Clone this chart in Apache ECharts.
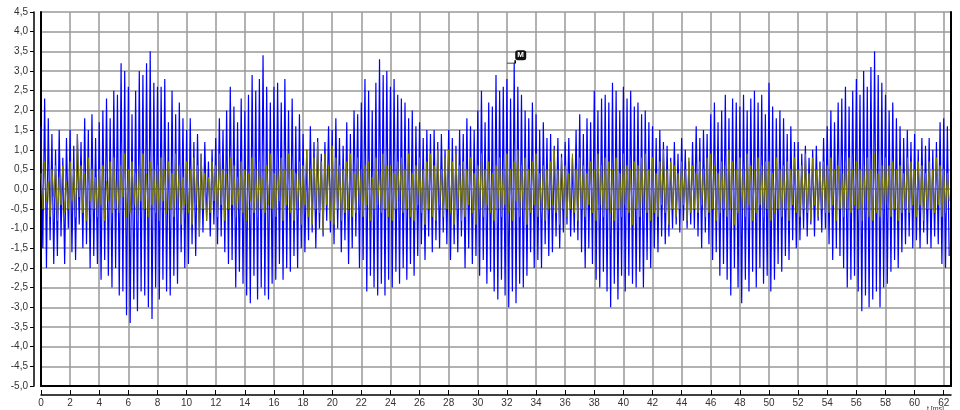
<!DOCTYPE html>
<html><head><meta charset="utf-8">
<script src="https://cdn.jsdelivr.net/npm/echarts@6/dist/echarts.min.js"></script>
<style>html,body{margin:0;padding:0;background:#fff}#c{width:960px;height:410px}</style>
</head><body><div id="c"></div>
<script>
// sampling step of both signals, in ms
const sampleStep = 0.125;

// blue signal, one row per millisecond (8 samples each)
const blueRows = [
[1.6,-1.5,2.3,-2.0,1.8,-1.3,1.4,-1.9],
[1.0,-1.7,1.5,-1.2,0.8,-1.9,1.3,-1.0],
[1.5,-1.6,1.1,-1.8,1.4,-0.9,1.2,-1.5],
[1.8,-1.4,1.5,-2.0,1.9,-1.7,1.3,-1.9],
[1.7,-2.3,2.0,-1.8,2.3,-2.2,1.8,-2.5],
[2.5,-2.0,2.4,-2.7,3.2,-2.6,3.0,-3.2],
[2.6,-3.4,1.9,-2.8,2.5,-3.1,3.0,-2.6],
[2.9,-2.7,3.2,-3.0,3.5,-3.3,2.7,-2.5],
[2.6,-2.8,2.6,-2.3,2.8,-2.6,1.7,-2.7],
[2.5,-2.2,1.9,-2.4,2.2,-1.6,1.8,-2.0],
[1.5,-1.9,1.8,-1.4,1.2,-1.7,1.4,-1.2],
[0.9,-1.1,1.2,-0.8,0.7,-1.2,1.0,-0.9],
[1.3,-1.4,1.8,-1.2,1.5,-1.6,2.0,-1.9],
[2.6,-1.8,2.1,-2.5,1.7,-2.1,2.3,-2.4],
[2.0,-2.7,2.4,-2.9,2.9,-2.2,2.5,-2.8],
[2.8,-2.5,3.4,-2.7,2.6,-2.8,2.2,-2.4],
[2.6,-2.3,2.7,-1.9,2.2,-2.3,2.8,-2.0],
[2.0,-2.1,2.3,-1.7,1.6,-2.0,1.9,-1.5],
[1.4,-1.6,1.0,-1.3,1.6,-1.1,1.2,-1.5],
[1.3,-1.0,0.9,-1.2,1.2,-0.8,1.6,-1.1],
[1.5,-1.4,1.8,-1.0,1.3,-1.6,1.1,-1.3],
[1.7,-1.9,1.4,-1.5,2.0,-1.2,1.9,-2.0],
[2.2,-1.8,2.8,-2.6,2.5,-2.2,2.0,-2.5],
[2.7,-2.7,3.3,-2.4,2.9,-2.7,3.0,-2.3],
[2.6,-2.5,2.8,-2.1,2.4,-2.4,2.3,-2.0],
[2.2,-2.3,1.8,-1.9,2.0,-2.2,1.6,-1.7],
[1.7,-1.4,1.3,-1.8,1.5,-1.2,1.4,-1.6],
[1.5,-1.3,1.2,-1.5,1.4,-1.1,1.0,-1.4],
[1.5,-1.8,1.3,-1.4,1.1,-1.6,1.5,-1.2],
[1.4,-2.0,1.8,-1.5,1.6,-1.9,1.5,-1.7],
[2.0,-2.2,2.5,-1.8,1.7,-2.4,2.2,-2.1],
[2.1,-2.6,2.9,-2.8,2.5,-2.3,2.6,-2.7],
[2.8,-3.0,2.3,-2.6,3.2,-2.9,2.6,-2.4],
[2.4,-2.5,2.0,-2.2,1.8,-1.6,2.2,-2.0],
[1.9,-1.8,1.5,-2.0,1.7,-1.4,1.3,-1.7],
[1.4,-1.6,1.1,-1.2,1.3,-1.5,0.9,-1.1],
[1.2,-0.9,1.3,-1.2,0.8,-1.1,1.5,-1.3],
[1.9,-1.6,1.4,-2.0,1.8,-1.5,1.7,-1.9],
[2.5,-2.3,2.0,-2.5,2.3,-2.1,2.4,-2.6],
[2.2,-3.0,2.7,-2.4,2.5,-2.8,2.0,-2.2],
[2.6,-2.6,2.3,-2.2,2.5,-2.4,2.1,-2.5],
[2.2,-2.1,1.9,-2.5,2.0,-1.8,1.7,-2.0],
[1.6,-1.5,1.3,-1.6,1.5,-1.2,1.2,-1.4],
[1.1,-1.2,0.8,-1.0,1.2,-0.9,0.9,-1.1],
[1.3,-0.8,1.0,-1.0,0.7,-0.9,1.2,-1.0],
[1.6,-1.2,1.3,-1.5,1.5,-1.1,1.4,-1.4],
[1.9,-1.8,2.2,-1.6,1.7,-2.2,2.0,-1.9],
[2.4,-2.3,1.8,-2.7,2.3,-2.0,2.2,-2.5],
[2.1,-2.9,2.4,-2.3,2.0,-2.6,2.3,-2.1],
[2.5,-2.5,2.2,-2.0,2.4,-2.4,1.9,-2.2],
[2.7,-2.6,2.1,-2.3,1.8,-1.9,2.0,-2.1],
[1.8,-1.7,1.4,-1.8,1.6,-1.3,1.2,-1.5],
[1.2,-1.3,0.9,-1.0,1.1,-1.2,0.8,-0.9],
[1.0,-1.2,1.1,-0.8,0.7,-1.1,1.3,-1.0],
[1.6,-1.4,2.0,-1.8,1.7,-1.5,2.2,-1.7],
[2.3,-2.0,2.6,-2.5,2.1,-2.3,2.5,-2.2],
[2.8,-2.6,2.4,-3.1,3.0,-2.7,2.6,-3.0],
[3.1,-2.8,3.5,-2.6,2.9,-3.0,2.7,-2.5],
[2.4,-2.4,2.0,-2.1,2.2,-1.8,1.8,-2.0],
[1.6,-1.6,1.3,-1.4,1.5,-1.2,1.2,-1.5],
[1.4,-1.3,1.0,-1.5,1.3,-1.1,1.1,-1.4],
[1.3,-1.5,1.0,-1.2,1.2,-1.4,1.7,-1.9],
[1.8,-2.0,1.6,-1.7]
];

// olive signal, one row per millisecond (8 samples each)
const oliveRows = [
[0.4,-0.5,0.7,-0.3,0.2,-0.7,0.5,-0.2],
[0.6,-0.8,0.3,-0.4,0.6,-0.6,0.2,-0.5],
[0.7,-0.3,0.5,-0.7,1.4,-0.2,0.6,-0.6],
[0.4,-0.8,0.8,-0.3,0.5,-0.5,0.3,-0.7],
[0.5,-0.4,0.6,-0.8,0.2,-0.3,0.7,-0.6],
[0.8,-0.5,0.3,-0.6,0.6,-0.2,0.9,-0.7],
[0.5,-0.6,0.7,-0.4,0.4,-0.8,0.6,-0.3],
[0.9,-0.5,0.4,-0.7,0.7,-0.4,0.5,-0.6],
[0.6,-0.8,0.8,-0.3,0.5,-0.6,0.7,-0.5],
[0.4,-0.7,0.9,-0.5,0.6,-0.9,0.3,-0.4],
[0.7,-0.6,0.5,-0.9,0.8,-0.4,0.6,-1.2],
[0.9,-0.5,0.4,-0.8,0.3,-0.6,0.7,-0.3],
[0.6,-0.7,0.9,-0.4,0.5,-0.8,0.4,-0.5],
[0.8,-0.4,0.6,-0.7,0.3,-0.5,0.7,-0.6],
[0.5,-0.8,0.4,-0.3,0.8,-0.6,0.5,-0.7],
[0.7,-0.5,0.3,-0.6,0.6,-0.4,0.9,-0.5],
[0.4,-0.7,0.6,-0.3,0.8,-0.8,0.5,-0.4],
[0.9,-0.6,0.5,-0.8,0.4,-0.5,0.7,-0.9],
[0.6,-0.4,1.0,-0.7,0.5,-0.9,0.8,-0.5],
[1.2,-0.6,0.7,-1.1,0.9,-0.4,0.6,-0.8],
[1.1,-0.9,0.8,-0.5,0.6,-0.8,0.5,-0.6],
[0.7,-0.5,0.9,-0.7,0.4,-0.6,0.8,-0.4],
[0.5,-0.7,0.6,-0.4,0.7,-0.8,0.3,-0.5],
[0.8,-0.4,0.5,-0.6,0.9,-0.5,0.6,-0.7],
[0.6,-0.8,0.4,-0.5,0.7,-0.3,0.8,-0.6],
[0.5,-0.5,0.9,-0.7,0.4,-0.8,0.6,-0.4],
[0.8,-0.6,0.5,-0.9,0.7,-0.5,0.9,-0.7],
[0.6,-0.8,1.0,-0.4,0.5,-0.7,0.8,-0.5],
[1.0,-0.6,0.7,-0.9,0.9,-0.5,0.6,-0.8],
[0.7,-0.7,0.5,-0.4,0.8,-0.6,0.4,-0.9],
[0.6,-0.5,0.9,-0.7,0.5,-0.4,0.7,-0.6],
[0.4,-0.8,0.6,-0.5,0.8,-0.7,0.5,-0.4],
[0.9,-0.6,0.5,-0.8,0.7,-0.3,1.0,-0.7],
[0.6,-0.5,0.8,-0.9,0.5,-0.6,0.7,-0.4],
[0.9,-0.7,0.4,-0.6,0.6,-0.8,0.5,-0.5],
[0.7,-0.4,1.0,-0.6,0.5,-0.9,0.8,-0.5],
[0.6,-0.7,0.4,-0.5,0.9,-0.6,0.5,-0.8],
[0.8,-0.5,0.6,-0.7,0.4,-0.4,0.7,-0.6],
[0.5,-0.8,0.9,-0.4,0.6,-0.7,0.8,-0.5],
[0.7,-0.6,0.5,-0.8,0.8,-0.5,0.4,-0.7],
[0.9,-0.4,0.6,-0.6,0.5,-0.9,0.7,-0.5],
[0.6,-0.7,0.8,-0.5,0.9,-0.6,0.5,-0.8],
[0.8,-0.6,0.4,-0.7,0.7,-0.4,1.0,-0.6],
[0.5,-0.9,0.7,-0.5,0.6,-0.7,0.4,-0.5],
[0.7,-0.4,0.5,-0.8,0.8,-0.6,0.6,-0.5],
[0.4,-0.6,0.7,-0.4,0.5,-0.7,0.8,-0.6],
[0.9,-0.5,0.6,-0.8,0.4,-0.6,0.7,-0.5],
[0.6,-0.7,1.0,-0.5,0.7,-0.9,0.5,-0.6],
[0.8,-0.5,0.5,-0.7,0.9,-0.4,0.6,-0.8],
[0.5,-0.6,0.8,-0.4,0.6,-0.7,0.7,-0.5],
[0.7,-0.8,0.4,-0.6,0.8,-0.5,0.5,-0.7],
[0.6,-0.5,0.7,-0.8,0.5,-0.4,0.8,-0.6],
[0.5,-0.7,0.6,-0.5,0.9,-0.6,0.4,-0.8],
[0.8,-0.4,0.5,-0.7,0.6,-0.5,0.7,-0.6],
[0.6,-0.6,0.8,-0.4,0.5,-0.8,0.6,-0.5],
[0.4,-0.7,0.7,-0.5,0.8,-0.6,0.5,-0.4],
[0.7,-0.5,0.5,-0.8,0.6,-0.4,0.8,-0.7],
[0.5,-0.8,0.9,-0.6,0.4,-0.7,0.6,-0.5],
[0.8,-0.4,0.6,-0.7,0.7,-0.5,0.5,-0.8],
[0.6,-0.6,0.4,-0.5,0.8,-0.6,0.7,-0.4],
[0.5,-0.7,0.7,-0.4,0.6,-0.8,0.4,-0.5],
[0.7,-0.5,0.5,-0.6,0.8,-0.4,0.6,-0.7],
[0.5,-0.6,0.4,-0.3]
];

// axis ranges
const xMin = 0, xMax = 62.5, xStep = 2;
const yMin = -5.0, yMax = 4.5, yStep = 0.5;
const xName = 't [ms]';

// marker
const markerT = 32.5, markerV = 3.2, markerText = 'M';

function toSeries(rows) {
  const out = [];
  rows.flat().forEach((v, i) => out.push([i * sampleStep, v]));
  return out;
}
const blueData = toSeries(blueRows);
const oliveData = toSeries(oliveRows);

const chart = echarts.init(document.getElementById('c'), null, {renderer: 'canvas'});
const labelFont = {fontFamily: 'Liberation Sans, Arial, sans-serif', fontSize: 10, color: '#333'};
const gridLine = {show: true, lineStyle: {color: '#999', width: 1.5}};

chart.setOption({
  animation: false,
  backgroundColor: '#fff',
  grid: {left: 41, right: 9, top: 12, bottom: 24, containLabel: false},
  xAxis: [
    {
      type: 'value', min: xMin, max: xMax, interval: xStep, position: 'bottom', offset: 9,
      axisLine: {show: true, onZero: false, lineStyle: {color: '#000', width: 1.5}},
      axisTick: {show: true, length: 5, inside: true, lineStyle: {color: '#000'}},
      axisLabel: Object.assign({margin: 3, showMaxLabel: false,
        formatter: v => (v % xStep === 0 ? String(v) : '')}, labelFont),
      splitLine: gridLine
    },
    {
      type: 'value', min: xMin, max: xMax, position: 'bottom', offset: 0,
      axisLine: {show: true, onZero: false, lineStyle: {color: '#000', width: 2}},
      axisTick: {show: false}, axisLabel: {show: false}, splitLine: {show: false}
    }
  ],
  yAxis: [
    {
      type: 'value', min: yMin, max: yMax, interval: yStep, position: 'left', offset: 7,
      axisLine: {show: true, onZero: false, lineStyle: {color: '#000', width: 1.5}},
      axisTick: {show: true, length: 4, lineStyle: {color: '#000'}},
      axisLabel: Object.assign({margin: 6, formatter: v => v.toFixed(1).replace('.', ',')}, labelFont),
      splitLine: gridLine
    },
    {
      type: 'value', min: yMin, max: yMax, position: 'left', offset: 0,
      axisLine: {show: true, onZero: false, lineStyle: {color: '#000', width: 2}},
      axisTick: {show: false}, axisLabel: {show: false}, splitLine: {show: false}
    },
    {
      type: 'value', min: yMin, max: yMax, position: 'right', offset: 0,
      axisLine: {show: true, onZero: false, lineStyle: {color: '#000', width: 2}},
      axisTick: {show: false}, axisLabel: {show: false}, splitLine: {show: false}
    }
  ],
  graphic: [{
    type: 'text', right: 16, bottom: -3,
    style: {text: xName, fontSize: 7, fill: '#333', fontFamily: 'Liberation Sans, Arial, sans-serif'}
  }],
  series: [
    {
      name: 'blue', type: 'line', xAxisIndex: 0, yAxisIndex: 0, data: blueData,
      showSymbol: false, symbol: 'none', z: 2,
      lineStyle: {color: '#0000ff', width: 1.2},
      markPoint: {
        silent: true,
        data: [
          {coord: [markerT, markerV], symbol: 'path://M0,3L8,3L8,0', symbolSize: [8, 3],
           symbolOffset: [-3, -1.5], itemStyle: {color: 'none', borderColor: '#000', borderWidth: 1},
           label: {show: false}},
          {coord: [markerT, markerV], symbol: 'roundRect', symbolSize: [11, 10],
           symbolOffset: [6.5, -8], itemStyle: {color: '#111'},
           label: {show: true, position: 'inside', formatter: markerText, color: '#fff',
                   fontSize: 8, fontWeight: 'bold', fontFamily: 'Liberation Sans, Arial, sans-serif'}}
        ]
      }
    },
    {
      name: 'olive', type: 'line', xAxisIndex: 0, yAxisIndex: 0, data: oliveData,
      showSymbol: false, symbol: 'none', z: 3,
      lineStyle: {color: '#7a7a00', width: 1}
    }
  ]
});
</script>
</body></html>
